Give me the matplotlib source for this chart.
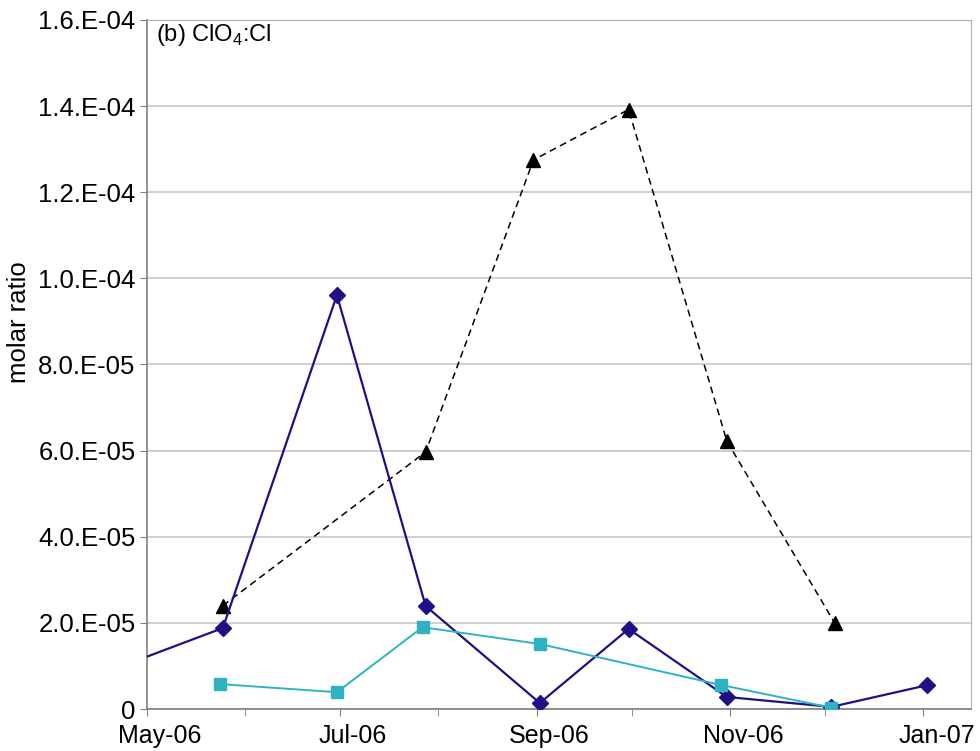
import numpy as np
import pandas as pd
import matplotlib
matplotlib.use("Agg")
import matplotlib.pyplot as plt
import matplotlib.dates as mdates
import matplotlib.transforms as mtransforms

plt.rcParams['font.family'] = ['Liberation Sans', 'DejaVu Sans']

# molar ratio series (dates are sampling days)
diamond_dates = pd.to_datetime(["2006-04-15", "2006-05-25", "2006-06-30", "2006-07-28",
                                "2006-09-02", "2006-09-30", "2006-10-31", "2006-12-03",
                                "2007-01-02"])
diamond_vals = [0.77e-5, 1.88e-5, 9.61e-5, 2.39e-5, 0.14e-5, 1.86e-5, 0.28e-5, 0.05e-5, 0.55e-5]

triangle_dates = pd.to_datetime(["2006-05-25", "2006-07-28", "2006-08-31", "2006-09-30",
                                 "2006-10-31", "2006-12-04"])
triangle_vals = [2.40e-5, 5.97e-5, 12.75e-5, 13.92e-5, 6.22e-5, 2.00e-5]

square_dates = pd.to_datetime(["2006-05-24", "2006-06-30", "2006-07-27", "2006-09-02",
                               "2006-10-29", "2006-12-03"])
square_vals = [0.58e-5, 0.39e-5, 1.90e-5, 1.51e-5, 0.56e-5, 0.03e-5]

y_ticks = [0, 2e-5, 4e-5, 6e-5, 8e-5, 1e-4, 1.2e-4, 1.4e-4, 1.6e-4]
y_labels = ["0", "2.0.E-05", "4.0.E-05", "6.0.E-05", "8.0.E-05",
            "1.0.E-04", "1.2.E-04", "1.4.E-04", "1.6.E-04"]

fig = plt.figure(figsize=(9.8, 7.51), dpi=100)
ax = fig.add_axes([0.1497, 0.0559, 0.8411, 0.9175])

ax.plot(triangle_dates, triangle_vals, color='black', linestyle=(0, (4.5, 3)), linewidth=1.1,
        marker='^', markersize=10, zorder=3)
ax.plot(diamond_dates, diamond_vals, color='#1f1085', linewidth=1.6,
        marker='D', markersize=8.5, zorder=4)
ax.plot(square_dates, square_vals, color='#2fb3c2', linewidth=1.4,
        marker='s', markersize=9, zorder=5)

ax.set_xlim(pd.Timestamp("2006-05-01"), pd.Timestamp("2007-01-16"))
ax.set_ylim(0, 1.6e-4)

ax.set_yticks(y_ticks)
ax.set_yticklabels(y_labels)
ax.xaxis.set_major_locator(mdates.MonthLocator(bymonth=[1, 3, 5, 7, 9, 11]))
ax.xaxis.set_minor_locator(mdates.MonthLocator())
ax.xaxis.set_major_formatter(mdates.DateFormatter("%b-%y"))

ax.grid(axis='y', color='#c8c8c8', linewidth=1.2)
ax.set_axisbelow(True)
for side in ['top', 'right']:
    ax.spines[side].set_color('#b0b0b0')
for side in ['left', 'bottom']:
    ax.spines[side].set_color('#808080')
    ax.spines[side].set_linewidth(1.2)

ax.tick_params(axis='both', which='both', direction='out', length=5, color='#808080',
               labelsize=18.5, pad=3)
ax.tick_params(axis='x', pad=6, labelsize=18)

# month labels sit a little to the right of their ticks
shift = mtransforms.ScaledTranslation(0.13, 0, fig.dpi_scale_trans)
for lbl in ax.get_xticklabels():
    lbl.set_transform(lbl.get_transform() + shift)

ax.text(0.011, 0.997, r"(b) ClO$_\mathregular{4}$:Cl", transform=ax.transAxes,
        ha='left', va='top', fontsize=17)
fig.text(19 / 980, 1 - 322 / 751, "molar ratio", rotation=90, ha='center', va='center',
         fontsize=18.5)

fig.savefig("out.png", dpi=100)
